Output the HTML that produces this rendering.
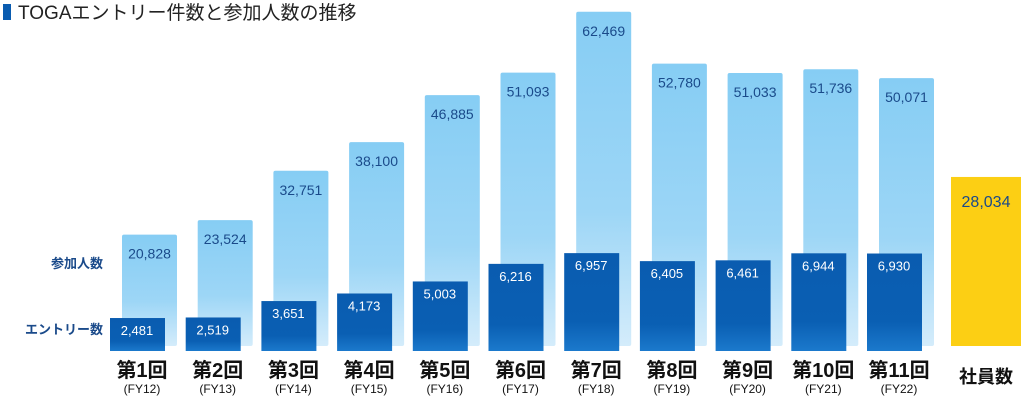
<!DOCTYPE html>
<html><head><meta charset="utf-8"><style>
body{margin:0;width:1030px;height:413px;background:#fff;overflow:hidden;font-family:"Liberation Sans","Noto Sans CJK JP",sans-serif}
</style></head><body>
<svg width="1030" height="413" id="c">
<defs>
<linearGradient id="lg" x1="0" y1="0" x2="0" y2="1"><stop offset="0" stop-color="#86cdf4"/><stop offset="0.6" stop-color="#9dd6f6"/><stop offset="1" stop-color="#d4ecfb"/></linearGradient>
<linearGradient id="dg" x1="0" y1="0" x2="0" y2="1"><stop offset="0" stop-color="#0a5cb0"/><stop offset="0.7" stop-color="#0a5fb3"/><stop offset="1" stop-color="#1b79cc"/></linearGradient>
</defs>
<rect x="3" y="4" width="8" height="16" fill="#0a5cb0"/>
<text x="18" y="19" font-size="19" fill="#222">TOGAエントリー件数と参加人数の推移</text>
<text x="103" y="268" font-size="13" font-weight="bold" fill="#1a4a8a" text-anchor="end">参加人数</text>
<text x="103" y="334" font-size="13" font-weight="bold" fill="#1a4a8a" text-anchor="end">エントリー数</text>
<g id="bars"></g>
</svg>
<script>
const rounds=["第1回","第2回","第3回","第4回","第5回","第6回","第7回","第8回","第9回","第10回","第11回"];
const years=["(FY12)","(FY13)","(FY14)","(FY15)","(FY16)","(FY17)","(FY18)","(FY19)","(FY20)","(FY21)","(FY22)"];
const participants=[20828,23524,32751,38100,46885,51093,62469,52780,51033,51736,50071];
const entries=[2481,2519,3651,4173,5003,6216,6957,6405,6461,6944,6930];
const employees=[28034];
const NS="http://www.w3.org/2000/svg";
const g=document.getElementById('bars');
function mk(t,a,txt){const e=document.createElementNS(NS,t);for(const k in a)e.setAttribute(k,a[k]);if(txt!==undefined)e.textContent=txt;g.appendChild(e);return e;}
const yP=v=>346-v*0.00535;
const yE=v=>351-(v*0.0145-3);
const fmt=v=>v.toLocaleString('en-US');
participants.forEach((v,i)=>{
 const x=122+i*75.7;
 let r=mk('rect',{x:x,y:yP(v),width:55,height:346-yP(v),fill:'url(#lg)',rx:2});
 
 
 let t=mk('text',{x:x+27.5,y:yP(v)+24,'font-size':14,fill:'#1a4a8a','text-anchor':'middle'},fmt(v));
 
 
});
entries.forEach((v,i)=>{
 const x=110+i*75.7;
 let r=mk('rect',{x:x,y:yE(v),width:55,height:351-yE(v),fill:'url(#dg)'});
 
 
 let t=mk('text',{x:x+27,y:yE(v)+17,'font-size':13,fill:'#fff','text-anchor':'middle'},fmt(v));
 
 
 let l=mk('text',{x:x+32,y:377,'font-size':20,'font-weight':'bold',fill:'#111','text-anchor':'middle'},rounds[i]);
 
 
 let f=mk('text',{x:x+32,y:393,'font-size':12,fill:'#111','text-anchor':'middle'},years[i]);
 
 
});
const ev=employees[0],ey=346-ev*0.00603;
let yr=mk('rect',{x:951,y:ey,width:70,height:346-ey,fill:'#fccf14'});


let yt=mk('text',{x:986,y:ey+30,'font-size':16,fill:'#1a4a8a','text-anchor':'middle'},fmt(ev));


let yl=mk('text',{x:986,y:383,'font-size':18,'font-weight':'bold',fill:'#111','text-anchor':'middle'},'社員数');


</script>
</body></html>
